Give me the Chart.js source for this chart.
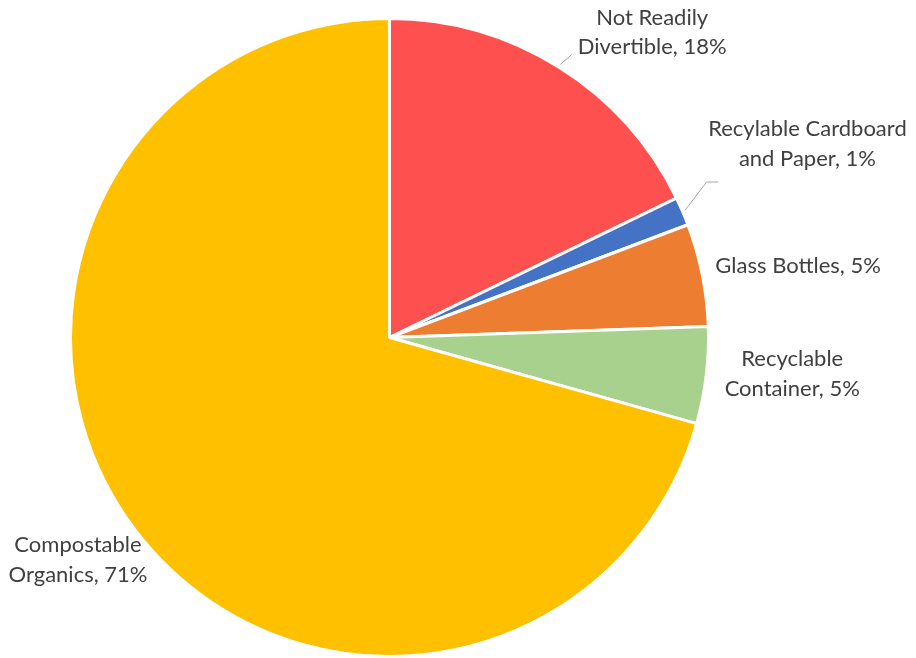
<!DOCTYPE html>
<html>
<head>
<meta charset="utf-8">
<title>Waste composition</title>
<script src="https://cdn.jsdelivr.net/npm/chart.js@4.4.1/dist/chart.umd.min.js"></script>
<style>
  html, body { margin: 0; padding: 0; background: #ffffff; }
  #wrap { width: 916px; height: 658px; }
</style>
</head>
<body>
<div id="wrap"><canvas id="wasteChart" width="916" height="658"></canvas></div>
<script>
// Slice names (one entry per text line), shares in percent, slice fills
const categories = [
    ['Not Readily', 'Divertible'],
    ['Recylable Cardboard', 'and Paper'],
    ['Glass Bottles'],
    ['Recyclable', 'Container'],
    ['Compostable', 'Organics']
];
const shares = [17.8, 1.45, 5.2, 4.9, 70.65];
const sliceColors = ['#FF5050', '#4472C4', '#ED7D31', '#A9D18E', '#FFC000'];

// Label layout: extra shift per label (px) and which ones get a leader line
const labelNudge = [[46, 3], [20, -50], [0, -3], [4, -7], [10, 3]];
const leaderStyle = ['straight', 'elbow', null, null, null];

const LABEL_FONT = '22px Lato, "Open Sans", sans-serif';
const LINE_H = 29.5;
const LABEL_GAP = 15;

// Draws "Name, NN%" outside each slice, with grey leader lines where needed
const sliceLabels = {
    id: 'sliceLabels',
    afterDatasetsDraw(chart) {
        const ctx = chart.ctx;
        const meta = chart.getDatasetMeta(0);
        const total = shares.reduce((a, b) => a + b, 0);

        ctx.save();
        ctx.font = LABEL_FONT;
        ctx.textAlign = 'center';
        ctx.textBaseline = 'middle';

        meta.data.forEach((arc, i) => {
            const { x, y, startAngle, endAngle, outerRadius } =
                arc.getProps(['x', 'y', 'startAngle', 'endAngle', 'outerRadius'], true);
            const mid = (startAngle + endAngle) / 2;
            const dx = Math.cos(mid);
            const dy = Math.sin(mid);

            const pct = Math.round(shares[i] / total * 100);
            const lines = categories[i].slice();
            lines[lines.length - 1] += ', ' + pct + '%';

            const w = Math.max(...lines.map(l => ctx.measureText(l).width));
            const h = lines.length * LINE_H;
            const ax = x + (outerRadius + LABEL_GAP) * dx;
            const ay = y + (outerRadius + LABEL_GAP) * dy;
            const cx = ax + dx * w / 2 + labelNudge[i][0];
            const cy = ay + dy * h / 2 + labelNudge[i][1];

            // leader line from the slice edge to the label
            if (leaderStyle[i]) {
                const sx = x + (outerRadius + 3) * dx;
                const sy = y + (outerRadius + 3) * dy;
                const left = cx - w / 2;
                ctx.strokeStyle = '#A6A6A6';
                ctx.lineWidth = 1;
                ctx.beginPath();
                ctx.moveTo(sx, sy);
                if (leaderStyle[i] === 'straight') {
                    ctx.lineTo(left - 6, cy + LINE_H * 0.75);
                } else {
                    const ey = cy + LINE_H * 1.3;
                    ctx.lineTo(left - 1.5, ey);
                    ctx.lineTo(left + 10, ey);
                }
                ctx.stroke();
            }

            ctx.fillStyle = '#404040';
            lines.forEach((l, k) => {
                ctx.fillText(l, cx, cy - h / 2 + LINE_H * (k + 0.5));
            });
        });
        ctx.restore();
    }
};

new Chart(document.getElementById('wasteChart').getContext('2d'), {
    type: 'pie',
    data: {
        labels: categories,
        datasets: [{
            data: shares,
            backgroundColor: sliceColors,
            borderColor: '#ffffff',
            borderWidth: 3
        }]
    },
    options: {
        responsive: false,
        animation: false,
        layout: {
            padding: { left: 69, right: 206, top: 17, bottom: 0 }
        },
        plugins: {
            legend: { display: false },
            tooltip: { enabled: false }
        }
    },
    plugins: [sliceLabels]
});
</script>
</body>
</html>
